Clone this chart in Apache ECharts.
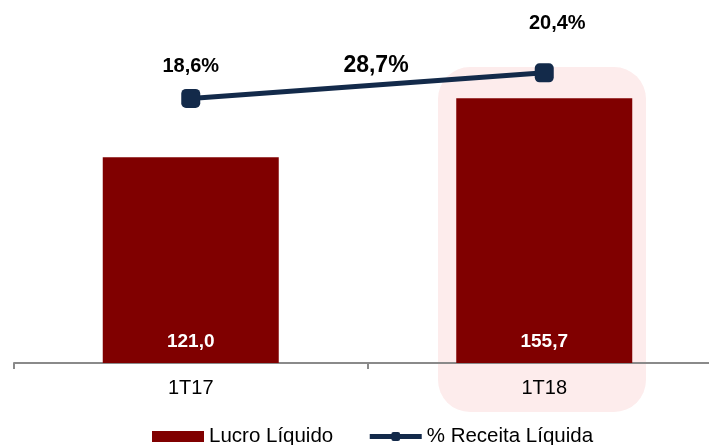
<!DOCTYPE html>
<html>
<head>
<meta charset="utf-8">
<script src="https://cdn.jsdelivr.net/npm/echarts@6/dist/echarts.min.js"></script>
<style>
  html, body { margin: 0; padding: 0; background: #fff; }
  #chart { width: 709px; height: 445px; }
</style>
</head>
<body>
<div id="chart"></div>
<script>
// dados
const categories = ['1T17', '1T18'];
const lucroLiquido = [121.0, 155.7];
const receitaPct = [18.6, 20.4];
const growthLabel = '28,7%';

const fmt = v => v.toFixed(1).replace('.', ',');
const font = 'Liberation Sans, Arial, sans-serif';

const chart = echarts.init(document.getElementById('chart'));

// offsets of the % labels above the markers
const pctOffsets = [[0, -32], [13, -49]];

chart.setOption({
    animation: false,
    grid: { left: 14, top: 23, width: 707, height: 340, outerBoundsMode: 'none', containLabel: false },
    legend: {
        left: 147,
        top: 421,
        itemWidth: 52,
        itemHeight: 11,
        itemGap: 34,
        textStyle: { fontFamily: font, fontSize: 20.5, color: '#000' },
        data: [
            { name: 'Lucro Líquido', icon: 'rect' },
            { name: '% Receita Líquida', lineStyle: { width: 5 } }
        ]
    },
    xAxis: {
        type: 'category',
        data: categories,
        axisLine: { lineStyle: { color: '#8a8a8a', width: 2 } },
        axisTick: { show: true, length: 6, lineStyle: { color: '#8a8a8a', width: 2 } },
        axisLabel: { fontFamily: font, fontSize: 20, color: '#000', margin: 15 }
    },
    yAxis: [
        { type: 'value', min: 0, max: 200, show: false, splitLine: { show: false } },
        { type: 'value', min: 0, max: 23.9, show: false, splitLine: { show: false } }
    ],
    graphic: [
        {
            type: 'rect',
            z: -10,
            shape: { x: 438, y: 67, width: 208, height: 345, r: 32 },
            style: { fill: '#fdecec' }
        },
        {
            type: 'text',
            x: 376,
            y: 66,
            style: {
                text: growthLabel,
                font: 'bold 23px ' + font,
                fill: '#000',
                align: 'center',
                verticalAlign: 'middle'
            }
        }
    ],
    series: [
        {
            name: 'Lucro Líquido',
            type: 'bar',
            barWidth: 176,
            itemStyle: { color: '#800000' },
            label: {
                show: true,
                position: 'insideBottom',
                distance: 12,
                formatter: p => fmt(p.value),
                fontFamily: font,
                fontSize: 19,
                fontWeight: 'bold',
                color: '#fff'
            },
            data: lucroLiquido
        },
        {
            name: '% Receita Líquida',
            type: 'line',
            yAxisIndex: 1,
            symbol: 'roundRect',
            symbolSize: 19,
            lineStyle: { color: '#132a4a', width: 5 },
            itemStyle: { color: '#132a4a' },
            z: 5,
            label: {
                show: true,
                position: 'inside',
                formatter: p => fmt(p.value) + '%',
                fontFamily: font,
                fontSize: 20,
                fontWeight: 'bold',
                color: '#000'
            },
            data: receitaPct.map((v, i) => ({ value: v, label: { offset: pctOffsets[i] } }))
        }
    ]
});
</script>
</body>
</html>
